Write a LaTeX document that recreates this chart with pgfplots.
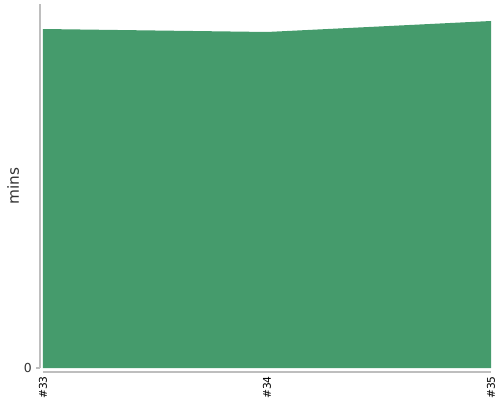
\documentclass[border=0pt]{standalone}
\usepackage{fontspec}
\setmainfont{DejaVu Sans}
\usepackage{pgfplots}
\pgfplotsset{compat=1.18}
\usetikzlibrary{calc}
\definecolor{areagreen}{RGB}{69,155,108}
\definecolor{axisgray}{RGB}{190,190,190}
\definecolor{labelgray}{RGB}{51,51,51}
\begin{document}
\begin{tikzpicture}
\begin{axis}[
    name=ax,
    scale only axis,
    width=336pt, height=273pt,
    xmin=0, xmax=2, ymin=0, ymax=100,
    axis line style={draw=none},
    xtick={0,1,2},
    xticklabels={\#33,\#34,\#35},
    ytick={0},
    major tick length=0pt,
    /pgf/number format/assume math mode=true,
    xticklabel style={yshift=-6pt, rotate=90, anchor=east, font=\fontsize{8}{9}\selectfont, text=black, inner sep=0pt},
    yticklabel style={font=\fontsize{9.3}{10}\selectfont, text=labelgray, inner sep=0pt, xshift=-8.25pt},
    ylabel={mins},
    ylabel style={font=\fontsize{11.5}{12}\selectfont, text=labelgray},
    clip=false,
]
\addplot[draw=none, fill=areagreen] coordinates {(0,93.13) (1,92.31) (2,95.33)} \closedcycle;
\end{axis}
% separate axis lines, offset from the plot area
\draw[axisgray, line width=0.9pt] ($(ax.south west)+(-2.25pt,0)$) -- ($(ax.north west)+(-2.25pt,0)$);
\draw[axisgray, line width=0.9pt] ($(ax.south west)+(-5.25pt,0)$) -- ($(ax.south west)+(-2.25pt,0)$);
\draw[axisgray, line width=0.9pt] ($(ax.south west)+(0,-3pt)$) -- ($(ax.south east)+(0,-3pt)$);
\pgfresetboundingbox
\path[use as bounding box] ($(ax.south west)+(-32.25pt,-24pt)$) rectangle ($(ax.north east)+(6.75pt,3pt)$);
\end{tikzpicture}
\end{document}
